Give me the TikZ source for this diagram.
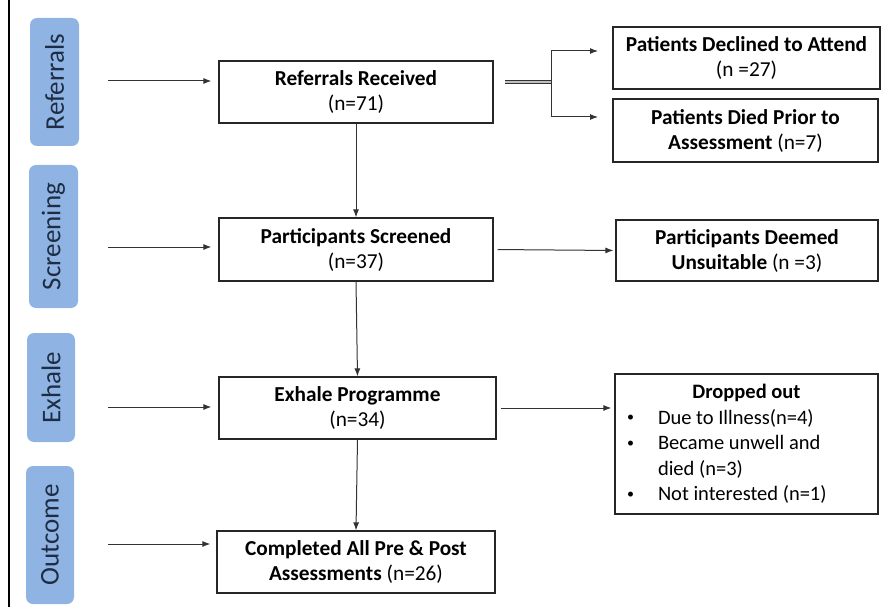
\documentclass[tikz,border=0pt]{standalone}
\usepackage{fontspec}
\setmainfont{Carlito}
\usetikzlibrary{arrows.meta}

\definecolor{stageblue}{HTML}{8FB4E3}
\definecolor{stagetext}{HTML}{1E2C44}

\newcommand{\dropitem}{\hspace*{12pt}\makebox[31pt][l]{\raisebox{2.5pt}{\fontsize{14}{14}\selectfont\textbullet}}}

\tikzset{
  stage/.style={rotate=90, fill=stageblue, rounded corners=7pt, text=stagetext,
    font=\fontsize{27}{30}\selectfont, inner sep=0pt},
  flowbox/.style={draw=black!85, line width=1.2pt, align=center, inner sep=0pt,
    font=\fontsize{21.3}{25}\selectfont},
  flowline/.style={draw=black!80, line width=1pt, -{Latex[length=8pt,width=6pt]}}
}

\begin{document}
\begin{tikzpicture}[x=1pt,y=-1pt]
    \useasboundingbox (0,0) rectangle (889,607);
    \draw [line width=2.5pt] (9,0) -- (9,607);
    % stage labels
    \node (stref) [stage, minimum width=128, minimum height=49] at (54.5,82) {Referrals};
    \node (stscr) [stage, minimum width=143, minimum height=49] at (53.5,236.5) {Screening};
    \node (stexh) [stage, minimum width=109, minimum height=48] at (51,387.5) {Exhale};
    \node (stout) [stage, minimum width=138, minimum height=48] at (50,535) {Outcome};
    % main column
    \node (ref) [flowbox, minimum width=274, minimum height=62] at (356,92)
      {\textbf{Referrals Received}\\(n=71)};
    \node (scr) [flowbox, minimum width=274, minimum height=63] at (356,249.5)
      {\textbf{Participants Screened}\\(n=37)};
    \node (exh) [flowbox, minimum width=277, minimum height=62] at (357.5,408)
      {\textbf{Exhale Programme}\\(n=34)};
    \node (cmp) [flowbox, minimum width=278, minimum height=62] at (356,562)
      {\textbf{Completed All Pre \& Post}\\\textbf{Assessments} (n=26)};
    % exits
    \node (decl) [flowbox, minimum width=267, minimum height=62] at (746.5,58)
      {\textbf{Patients Declined to Attend}\\(n =27)};
    \node (died) [flowbox, minimum width=265, minimum height=63] at (745.5,130.5)
      {\textbf{Patients Died Prior to}\\\textbf{Assessment} (n=7)};
    \node (unsu) [flowbox, minimum width=262, minimum height=61] at (747,250.5)
      {\textbf{Participants Deemed}\\\textbf{Unsuitable} (n =3)};
    \node (drop) [flowbox, minimum width=263, minimum height=140, text width=263, align=flush left,
      font=\fontsize{20.5}{25.5}\selectfont] at (746.5,444)
      {\makebox[263pt]{\textbf{Dropped out}}\\
       \dropitem Due to Illness(n=4)\\
       \dropitem Became unwell and\\
       \hspace*{43pt}died (n=3)\\
       \dropitem Not interested (n=1)};
    % incoming arrows
    \coordinate (refin) at (108,81);
    \coordinate (scrin) at (108,247);
    \coordinate (exhin) at (108,407);
    \coordinate (cmpin) at (108,544);
    \draw [flowline, shorten >=7pt] (refin) -- (refin -| ref.west);
    \draw [flowline, shorten >=7pt] (scrin) -- (scrin -| scr.west);
    \draw [flowline, shorten >=7pt] (exhin) -- (exhin -| exh.west);
    \draw [flowline, shorten >=6pt] (cmpin) -- (cmpin -| cmp.west);
    % main flow
    \draw [flowline] (ref.south) -- (scr.north);
    \draw [flowline] (scr.south) -- (exh.north);
    \draw [flowline] (exh.south) -- (cmp.north);
    % split to exits
    \coordinate (splitin) at (505,82);
    \coordinate (split) at (551,82);
    \coordinate (declin) at (598,51);
    \coordinate (diedin) at (598,117);
    \draw [draw=black!80, double=black!25, double distance=2pt, line width=0.8pt] (splitin) -- (split);
    \draw [flowline] (split) |- (declin);
    \draw [flowline] (split) |- (diedin);
    \draw [flowline, shorten <=4pt, shorten >=2pt] (scr.east) -- (unsu.west);
    \draw [flowline, shorten <=4pt, shorten >=3pt] (exh.east) -- (exh.east -| drop.west);
  \end{tikzpicture}
\end{document}
